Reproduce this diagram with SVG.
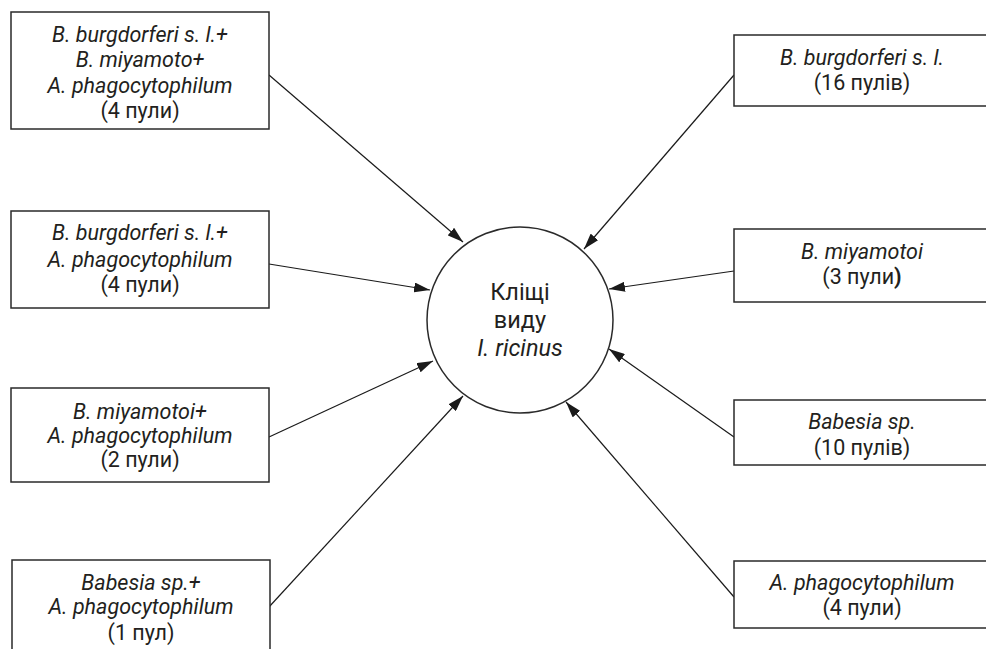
<svg xmlns="http://www.w3.org/2000/svg" width="986" height="649" viewBox="0 0 986 649">
<defs>
<marker id="ah" viewBox="0 0 16 10" refX="16" refY="5" markerWidth="16" markerHeight="10" markerUnits="userSpaceOnUse" orient="auto">
<path d="M0,0 L16,5 L0,10 z" fill="#1a1a1a"/>
</marker>
<style>
rect.box{fill:#fff;stroke:#2a2a2a;stroke-width:1.5}
circle.c{fill:#fff;stroke:#2a2a2a;stroke-width:1.5}
text{font-family:Roboto,"Liberation Sans",sans-serif;font-size:21.5px;fill:#231f20;text-anchor:middle}
.i{font-style:italic}
.ce{font-size:23.5px}
line.e{stroke:#1a1a1a;stroke-width:1.2;marker-end:url(#ah)}
</style>
</defs>
<rect width="986" height="649" fill="#fff"/>
<g id="connectors">
<line class="e" x1="269" y1="75" x2="463" y2="242"/>
<line class="e" x1="269" y1="264" x2="430" y2="290"/>
<line class="e" x1="269" y1="437" x2="433" y2="361"/>
<line class="e" x1="269" y1="607" x2="463" y2="396"/>
<line class="e" x1="734" y1="75" x2="584" y2="249"/>
<line class="e" x1="734" y1="271" x2="609" y2="289"/>
<line class="e" x1="734" y1="437" x2="609" y2="349"/>
<line class="e" x1="734" y1="597" x2="566" y2="402"/>
</g>
<g id="center">
<circle class="c" cx="520" cy="320" r="93"/>
<text class="ce" x="520" y="300">Кліщі</text>
<text class="ce" x="520" y="328">виду</text>
<text class="ce i" x="520" y="356">I. ricinus</text>
</g>
<g id="L1">
<rect class="box" x="11" y="12" width="258" height="117"/>
<text class="i" x="140" y="42">B. burgdorferi s. l.+</text>
<text class="i" x="140" y="67">B. miyamoto+</text>
<text class="i" x="140" y="93">A. phagocytophilum</text>
<text x="140" y="118">(4 пули)</text>
</g>
<g id="L2">
<rect class="box" x="11" y="211" width="258" height="97"/>
<text class="i" x="140" y="240">B. burgdorferi s. l.+</text>
<text class="i" x="140" y="267">A. phagocytophilum</text>
<text x="140" y="292">(4 пули)</text>
</g>
<g id="L3">
<rect class="box" x="11" y="388" width="258" height="94"/>
<text class="i" x="140" y="419">B. miyamotoi+</text>
<text class="i" x="140" y="443">A. phagocytophilum</text>
<text x="140" y="467">(2 пули)</text>
</g>
<g id="L4">
<rect class="box" x="12" y="560" width="258" height="110"/>
<text class="i" x="141" y="590">Babesia sp.+</text>
<text class="i" x="141" y="614">A. phagocytophilum</text>
<text x="141" y="640">(1 пул)</text>
</g>
<g id="R1">
<rect class="box" x="734" y="35" width="260" height="71"/>
<text class="i" x="862" y="65">B. burgdorferi s. l.</text>
<text x="862" y="90">(16 пулів)</text>
</g>
<g id="R2">
<rect class="box" x="734" y="229" width="260" height="73"/>
<text class="i" x="862" y="259">B. miyamotoi</text>
<text x="862" y="284">(3 пули<tspan font-weight="bold">)</tspan></text>
</g>
<g id="R3">
<rect class="box" x="734" y="400" width="260" height="65"/>
<text class="i" x="862" y="429">Babesia sp.</text>
<text x="862" y="455">(10 пулів)</text>
</g>
<g id="R4">
<rect class="box" x="734" y="561" width="260" height="67"/>
<text class="i" x="862" y="590">A. phagocytophilum</text>
<text x="862" y="615">(4 пули)</text>
</g>
</svg>
